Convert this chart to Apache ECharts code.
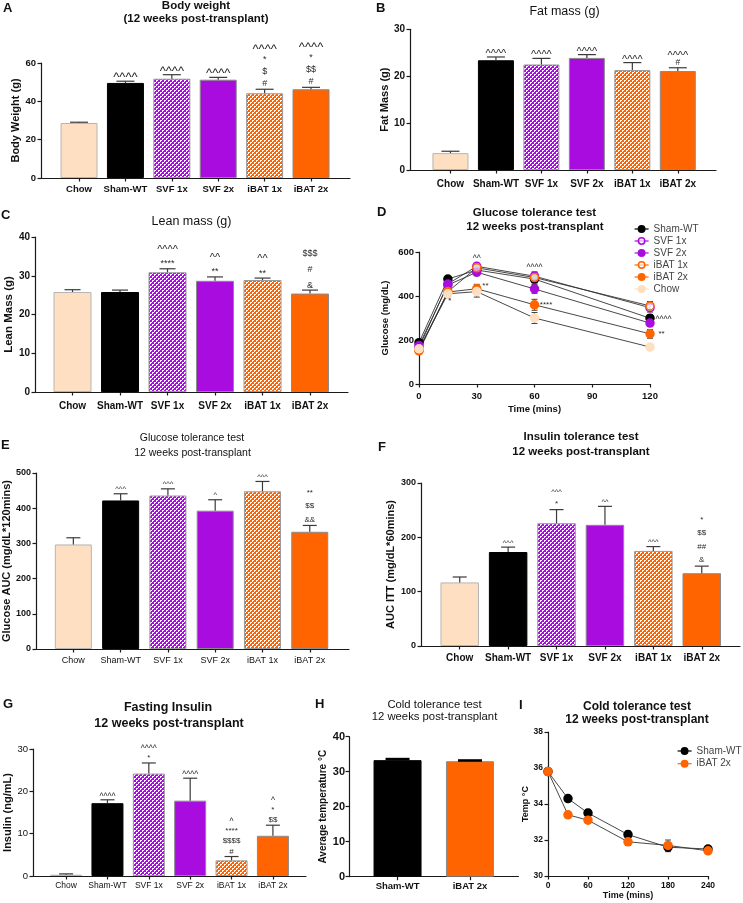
<!DOCTYPE html>
<html>
<head>
<meta charset="utf-8">
<script src="https://cdn.jsdelivr.net/npm/echarts@6.0.0/dist/echarts.min.js"></script>
<style>
html, body { margin:0; padding:0; background:#fff; }
#chart { width:743px; height:903px; }
</style>
</head>
<body>
<div id="chart"></div>
<script>
// ---------------- data ----------------
const groups = ['Chow', 'Sham-WT', 'SVF 1x', 'SVF 2x', 'iBAT 1x', 'iBAT 2x'];

const bodyWeightTicks = [0, 20, 40, 60];
const bodyWeight = [28.7, 49.6, 51.8, 51.3, 44.2, 46.3];
const bodyWeightSem = [0.4, 0.9, 2.1, 1.2, 2.1, 1.0];
const bodyWeightSig = [[], ['^^^^'], ['^^^^'], ['^^^^'], ['^^^^', '*', '$', '#'], ['^^^^', '*', '$$', '#']];

const fatMassTicks = [0, 10, 20, 30];
const fatMass = [3.6, 23.4, 22.5, 23.9, 21.3, 21.1];
const fatMassSem = [0.4, 0.7, 1.3, 0.7, 1.6, 0.7];
const fatMassSig = [[], ['^^^^'], ['^^^^'], ['^^^^'], ['^^^^'], ['^^^^', '#']];

const leanMassTicks = [0, 10, 20, 30, 40];
const leanMass = [25.8, 25.8, 30.9, 28.7, 28.9, 25.4];
const leanMassSem = [0.6, 0.5, 0.9, 1.0, 0.5, 0.9];
const leanMassSig = [[], [], ['^^^^', '****'], ['^^', '**'], ['^^', '**'], ['$$$', '#', '&']];

const gttTimes = [0, 15, 30, 60, 120];
const gttTimeTicks = [0, 30, 60, 90, 120];
const gttGlucoseTicks = [0, 200, 400, 600];
const gttShamWT = [188, 477, 518, 477, 299];
const gttShamWTSem = [10, 12, 14, 18, 16];
const gttSVF1x = [165, 455, 535, 490, 347];
const gttSVF1xSem = [10, 14, 14, 20, 20];
const gttSVF2x = [175, 450, 508, 432, 277];
const gttSVF2xSem = [10, 14, 16, 20, 14];
const gttIBAT1x = [155, 420, 528, 484, 355];
const gttIBAT1xSem = [10, 12, 14, 22, 20];
const gttIBAT2x = [150, 418, 433, 360, 228];
const gttIBAT2xSem = [10, 14, 20, 25, 20];
const gttChow = [160, 410, 420, 300, 168];
const gttChowSem = [10, 18, 25, 25, 10];
const gttSigText = ['^^', '*', '**', '^^^^', '****', '^^^^', '**'];
const gttSigTime = [30, 16, 34.5, 60, 66, 127, 126];
const gttSigGlucose = [575, 380, 447, 535, 359, 300, 227];

const gttAucTicks = [0, 100, 200, 300, 400, 500];
const gttAuc = [297, 422, 436, 393, 448, 333];
const gttAucSem = [19, 19, 19, 31, 28, 18];
const gttAucSig = [[], ['^^^'], ['^^^'], ['^'], ['^^^'], ['**', '$$', '&&']];

const ittAucTicks = [0, 100, 200, 300];
const ittAuc = [117, 173, 226, 223, 175, 134];
const ittAucSem = [10, 9, 25, 34, 8, 13];
const ittAucSig = [[], ['^^^'], ['^^^', '*'], ['^^'], ['^^^'], ['*', '$$', '##', '&']];

const insulinTicks = [0, 10, 20, 30];
const insulin = [0.3, 17.2, 24.2, 17.8, 3.7, 9.5];
const insulinSem = [0.2, 0.8, 2.5, 5.3, 0.9, 2.5];
const insulinSig = [[], ['^^^^'], ['^^^^', '*'], ['^^^^'], ['^', '****', '$$$$', '#'], ['^', '*', '$$']];

const coldGroups = ['Sham-WT', 'iBAT 2x'];
const coldTempTicks = [0, 10, 20, 30, 40];
const coldTemp = [33.3, 33.0];
const coldTempSem = [0.3, 0.2];

const ctTimes = [0, 30, 60, 120, 180, 240];
const ctTimeTicks = [0, 60, 120, 180, 240];
const ctTempTicks = [30, 32, 34, 36, 38];
const ctShamWT = [35.8, 34.3, 33.5, 32.3, 31.6, 31.5];
const ctShamWTSem = [0.1, 0.12, 0.2, 0.2, 0.25, 0.15];
const ctIBAT2x = [35.8, 33.4, 33.1, 31.9, 31.7, 31.4];
const ctIBAT2xSem = [0.1, 0.15, 0.15, 0.2, 0.3, 0.12];

// ---------------- styles ----------------
const FONT = '"Liberation Sans", Arial, Helvetica, sans-serif';
const AX = '#1a1a1a';
const PEACH = '#FEDFC1';
const PURPLE = '#A90CDF';
const ORANGE = '#FF6400';

function checker(c) {
  const cv = document.createElement('canvas');
  cv.width = 4; cv.height = 4;
  const ctx = cv.getContext('2d');
  ctx.fillStyle = c; ctx.fillRect(0, 0, 4, 4);
  ctx.fillStyle = '#ffffff';
  ctx.fillRect(0, 0, 2, 1); ctx.fillRect(0, 1, 1, 1);
  ctx.fillRect(2, 2, 2, 1); ctx.fillRect(2, 3, 1, 1);
  return { image: cv, repeat: 'repeat' };
}
const groupFills = [PEACH, '#000000', checker(PURPLE), PURPLE, checker(ORANGE), ORANGE];
const groupBorders = ['#b5b5b5', '#000000', '#9a9a9a', '#8a8a8a', '#9a9a9a', '#8a8a8a'];

const option = { animation: false, backgroundColor: '#fff', grid: [], xAxis: [], yAxis: [], series: [], graphic: [], legend: [] };

function yAxisCfg(gi, ticks, p) {
  return {
    gridIndex: gi, type: 'value', min: ticks[0], max: ticks[ticks.length - 1], interval: ticks[1] - ticks[0],
    axisLine: { show: true, onZero: false, lineStyle: { color: AX, width: 1.2 } },
    axisTick: { show: true, length: 3.5, lineStyle: { color: AX, width: 1.2 } },
    axisLabel: { margin: p.tickMargin || 5, fontFamily: FONT, fontSize: p.tickSize, fontWeight: p.tickWeight || 'bold', color: '#111' },
    splitLine: { show: false },
    name: p.yName, nameLocation: 'middle', nameGap: p.nameGap, nameRotate: 90,
    nameTextStyle: { fontFamily: FONT, fontSize: p.nameSize, fontWeight: 'bold', color: '#111' }
  };
}

function addBarPanel(p) {
  const gi = option.grid.length;
  option.grid.push({ left: p.left, top: p.top, width: p.width, height: p.height, containLabel: false, outerBoundsMode: 'none' });
  const idx = p.cats.map((_, i) => i);
  option.xAxis.push({
    gridIndex: gi, type: 'value', min: p.xmin, max: p.xmax,
    axisLine: { show: true, onZero: false, lineStyle: { color: AX, width: 1.2 } },
    axisTick: { show: true, customValues: idx, length: 3.5, lineStyle: { color: AX, width: 1.2 } },
    axisLabel: { show: true, customValues: idx, formatter: v => p.cats[Math.round(v)] || '', margin: p.labelMargin,
      fontFamily: FONT, fontSize: p.catSize, fontWeight: p.catWeight, color: '#111' },
    splitLine: { show: false }
  });
  option.yAxis.push(yAxisCfg(gi, p.ticks, p));
  option.series.push({
    type: 'bar', xAxisIndex: gi, yAxisIndex: gi, barWidth: p.barWidth, silent: true, z: 2,
    data: p.values.map((v, i) => ({ value: [i, v], itemStyle: { color: p.fills[i], borderColor: p.borders[i], borderWidth: 1 } }))
  });
  const errColor = p.errColor || '#3a3a3a';
  const errWidth = p.errWidth || 1.2;
  option.series.push({
    type: 'custom', xAxisIndex: gi, yAxisIndex: gi, silent: true, z: 5,
    data: p.values.map((v, i) => [i, v, p.sem[i]]),
    renderItem: (params, api) => {
      const i = params.dataIndex;
      const x = api.value(0), v = api.value(1), e = api.value(2);
      const b = api.coord([x, v]), t = api.coord([x, v + e]);
      const h = p.cap / 2;
      const ch = [
        { type: 'line', shape: { x1: b[0], y1: b[1], x2: t[0], y2: t[1] }, style: { stroke: errColor, lineWidth: 1.2 } },
        { type: 'line', shape: { x1: t[0] - h, y1: t[1], x2: t[0] + h, y2: t[1] }, style: { stroke: errColor, lineWidth: errWidth } }
      ];
      const lines = (p.sig && p.sig[i]) || [];
      const n = lines.length;
      lines.forEach((s, k) => {
        const y = t[1] - p.off0 - (n - 1 - k) * p.lh;
        const caret = s[0] === '^';
        const fs = caret ? p.caretSize : p.symSize;
        ch.push({ type: 'text', x: t[0], y: y + (caret ? fs * 0.18 : 0),
          style: { text: s, fill: '#2a2a2a', font: fs + 'px ' + FONT, align: 'center', verticalAlign: 'middle', textAlign: 'center', textVerticalAlign: 'middle' } });
      });
      return { type: 'group', children: ch };
    }
  });
}

function addLinePanel(p) {
  const gi = option.grid.length;
  option.grid.push({ left: p.left, top: p.top, width: p.width, height: p.height, containLabel: false, outerBoundsMode: 'none' });
  option.xAxis.push({
    gridIndex: gi, type: 'value', min: p.xTicks[0], max: p.xTicks[p.xTicks.length - 1], interval: p.xTicks[1] - p.xTicks[0],
    axisLine: { show: true, onZero: false, lineStyle: { color: AX, width: 1.2 } },
    axisTick: { show: true, length: 3.5, lineStyle: { color: AX, width: 1.2 } },
    axisLabel: { margin: p.xLabelMargin, fontFamily: FONT, fontSize: p.tickSize, fontWeight: 'bold', color: '#111' },
    splitLine: { show: false },
    name: p.xName, nameLocation: 'middle', nameGap: p.xNameGap,
    nameTextStyle: { fontFamily: FONT, fontSize: p.xNameSize, fontWeight: 'bold', color: '#111' }
  });
  option.yAxis.push(yAxisCfg(gi, p.yTicks, p));
  p.series.forEach(s => {
    option.series.push({
      type: 'custom', xAxisIndex: gi, yAxisIndex: gi, silent: true, z: 1,
      data: p.times.map((t, i) => [t, s.values[i], s.sem[i]]),
      renderItem: (params, api) => {
        const x = api.value(0), v = api.value(1), e = api.value(2);
        const lo = api.coord([x, v - e]), hi = api.coord([x, v + e]);
        const h = p.cap / 2;
        const st = { stroke: '#444', lineWidth: 1 };
        return { type: 'group', children: [
          { type: 'line', shape: { x1: lo[0], y1: lo[1], x2: hi[0], y2: hi[1] }, style: st },
          { type: 'line', shape: { x1: hi[0] - h, y1: hi[1], x2: hi[0] + h, y2: hi[1] }, style: st },
          { type: 'line', shape: { x1: lo[0] - h, y1: lo[1], x2: lo[0] + h, y2: lo[1] }, style: st }
        ] };
      }
    });
    option.series.push({
      type: 'line', name: s.name, xAxisIndex: gi, yAxisIndex: gi, z: 3,
      data: p.times.map((t, i) => [t, s.values[i]]),
      symbol: 'circle', symbolSize: p.symbolSize, showSymbol: true,
      lineStyle: { color: '#333', width: 0.9 },
      itemStyle: { color: s.fill, borderColor: s.stroke, borderWidth: 1.5 },
      emphasis: { disabled: true }
    });
  });
  option.legend.push({
    orient: 'vertical', left: p.legendLeft, top: p.legendTop, itemWidth: 14, itemHeight: 8, itemGap: p.legendGap,
    selectedMode: false,
    textStyle: { fontFamily: FONT, fontSize: 10, color: '#444', lineHeight: 12 },
    data: p.series.map(s => ({ name: s.name, itemStyle: { color: s.fill, borderColor: s.stroke, borderWidth: 1.5 }, lineStyle: { color: s.stroke, width: 1.2 } }))
  });
  if (p.sigText) {
    option.series.push({
      type: 'custom', xAxisIndex: gi, yAxisIndex: gi, silent: true, z: 6,
      data: p.sigTime.map((t, i) => [t, p.sigValue[i]]),
      renderItem: (params, api) => {
        const c = api.coord([api.value(0), api.value(1)]);
        const s = p.sigText[params.dataIndex];
        const caret = s[0] === '^';
        const fs = caret ? 8.5 : 8;
        return { type: 'text', x: c[0], y: c[1] + (caret ? fs * 0.18 : 0),
          style: { text: s, fill: '#2a2a2a', font: fs + 'px ' + FONT, align: 'center', verticalAlign: 'middle', textAlign: 'center', textVerticalAlign: 'middle' } };
      }
    });
  }
}

// ---------------- panels ----------------
// A
addBarPanel({ left: 41, top: 63, width: 309, height: 115, xmin: -0.82, xmax: 5.84, cats: groups,
  values: bodyWeight, sem: bodyWeightSem, sig: bodyWeightSig, ticks: bodyWeightTicks,
  fills: groupFills, borders: groupBorders, barWidth: 37, cap: 18, off0: 6, lh: 12, symSize: 9, caretSize: 13,
  catSize: 9.5, catWeight: 'bold', labelMargin: 6, tickSize: 9.5, yName: 'Body Weight (g)', nameGap: 19, nameSize: 11 });
// B
addBarPanel({ left: 410, top: 29.3, width: 306, height: 140.7, xmin: -0.89, xmax: 5.84, cats: groups,
  values: fatMass, sem: fatMassSem, sig: fatMassSig, ticks: fatMassTicks,
  fills: groupFills, borders: groupBorders, barWidth: 36, cap: 18, off0: 5, lh: 9, symSize: 8.5, caretSize: 11,
  catSize: 10, catWeight: 'bold', labelMargin: 9, tickSize: 10, yName: 'Fat Mass (g)', nameGap: 18.5, nameSize: 11 });
// C
addBarPanel({ left: 35, top: 237, width: 313, height: 155, xmin: -0.79, xmax: 5.8, cats: groups,
  values: leanMass, sem: leanMassSem, sig: leanMassSig, ticks: leanMassTicks,
  fills: groupFills, borders: groupBorders, barWidth: 38, cap: 16, off0: 5, lh: 16, symSize: 9, caretSize: 11,
  catSize: 10, catWeight: 'bold', labelMargin: 9, tickSize: 10, yName: 'Lean Mass (g)', nameGap: 18, nameSize: 11.5 });
// D
addLinePanel({ left: 419, top: 252, width: 231, height: 132, times: gttTimes, xTicks: gttTimeTicks, yTicks: gttGlucoseTicks,
  tickSize: 9.5, xLabelMargin: 7, xName: 'Time (mins)', xNameGap: 20, xNameSize: 9.5,
  yName: 'Glucose (mg/dL)', nameGap: 29, nameSize: 9.5, cap: 6, symbolSize: 8,
  legendLeft: 629, legendTop: 218, legendGap: 0,
  sigText: gttSigText, sigTime: gttSigTime, sigValue: gttSigGlucose,
  series: [
    { name: 'Sham-WT', values: gttShamWT, sem: gttShamWTSem, fill: '#000', stroke: '#000' },
    { name: 'SVF 1x', values: gttSVF1x, sem: gttSVF1xSem, fill: 'rgba(255,255,255,0.6)', stroke: PURPLE },
    { name: 'SVF 2x', values: gttSVF2x, sem: gttSVF2xSem, fill: PURPLE, stroke: PURPLE },
    { name: 'iBAT 1x', values: gttIBAT1x, sem: gttIBAT1xSem, fill: 'rgba(255,255,255,0.6)', stroke: ORANGE },
    { name: 'iBAT 2x', values: gttIBAT2x, sem: gttIBAT2xSem, fill: ORANGE, stroke: ORANGE },
    { name: 'Chow', values: gttChow, sem: gttChowSem, fill: PEACH, stroke: PEACH }
  ] });
// E
addBarPanel({ left: 36, top: 473, width: 313, height: 176, xmin: -0.79, xmax: 5.83, cats: groups,
  values: gttAuc, sem: gttAucSem, sig: gttAucSig, ticks: gttAucTicks,
  fills: groupFills, borders: groupBorders, barWidth: 37, cap: 14, off0: 6, lh: 13.5, symSize: 8, caretSize: 7.5,
  catSize: 9, catWeight: 'normal', labelMargin: 7, tickSize: 9, yName: 'Glucose AUC (mg/dL*120mins)', nameGap: 20, nameSize: 11 });
// F
addBarPanel({ left: 421, top: 483, width: 319, height: 163, xmin: -0.8, xmax: 5.79, cats: groups,
  values: ittAuc, sem: ittAucSem, sig: ittAucSig, ticks: ittAucTicks,
  fills: groupFills, borders: groupBorders, barWidth: 38.5, cap: 14, off0: 6, lh: 13.5, symSize: 8, caretSize: 7.5,
  catSize: 10, catWeight: 'bold', labelMargin: 7.5, tickSize: 9, yName: 'AUC ITT (mg/dL*60mins)', nameGap: 25, nameSize: 11 });
// G
addBarPanel({ left: 33, top: 749, width: 273, height: 127, xmin: -0.8, xmax: 5.8, cats: groups,
  values: insulin, sem: insulinSem, sig: insulinSig, ticks: insulinTicks,
  fills: groupFills, borders: groupBorders, barWidth: 32, cap: 14, off0: 5, lh: 10.5, symSize: 8, caretSize: 8.5,
  catSize: 8.5, catWeight: 'normal', labelMargin: 5, tickSize: 9.5, tickWeight: 'normal', yName: 'Insulin (ng/mL)', nameGap: 17, nameSize: 11 });
// H
addBarPanel({ left: 349, top: 736.7, width: 169.5, height: 140, xmin: -0.67, xmax: 1.67, cats: coldGroups,
  values: coldTemp, sem: coldTempSem, sig: [[], []], ticks: coldTempTicks,
  fills: ['#000000', ORANGE], borders: ['#000000', '#8a8a8a'], barWidth: 48, cap: 24, errColor: '#000', errWidth: 2.6,
  off0: 5, lh: 9, symSize: 8, caretSize: 8,
  catSize: 9.5, catWeight: 'bold', labelMargin: 5, tickSize: 11, tickMargin: 4, yName: 'Average temperature °C', nameGap: 21, nameSize: 10 });
// I
addLinePanel({ left: 548, top: 732, width: 160, height: 144, times: ctTimes, xTicks: ctTimeTicks, yTicks: ctTempTicks,
  tickSize: 8.5, xLabelMargin: 5, xName: 'Time (mins)', xNameGap: 15, xNameSize: 9,
  yName: 'Temp °C', nameGap: 16, nameSize: 9, cap: 6, symbolSize: 8,
  legendLeft: 672, legendTop: 740, legendGap: 0.7,
  series: [
    { name: 'Sham-WT', values: ctShamWT, sem: ctShamWTSem, fill: '#000', stroke: '#000' },
    { name: 'iBAT 2x', values: ctIBAT2x, sem: ctIBAT2xSem, fill: ORANGE, stroke: ORANGE }
  ] });

// ---------------- panel letters & titles ----------------
function txt(text, x, y, size, weight, align) {
  option.graphic.push({ type: 'text', x: x, y: y, silent: true,
    style: { text: text, fill: '#111', font: (weight || 'normal') + ' ' + size + 'px ' + FONT,
      align: align || 'center', verticalAlign: 'middle', textAlign: align || 'center', textVerticalAlign: 'middle' } });
}
[['A', 3, 8], ['B', 376, 8], ['C', 1, 215], ['D', 377, 212], ['E', 1, 445], ['F', 378, 447], ['G', 3, 704], ['H', 315, 704], ['I', 519, 705]]
  .forEach(l => txt(l[0], l[1], l[2], 13, 'bold', 'left'));

txt('Body weight', 196, 6, 11.5, 'bold');
txt('(12 weeks post-transplant)', 196, 19, 11.5, 'bold');
txt('Fat mass (g)', 564.5, 12, 12.5, 'normal');
txt('Lean mass (g)', 191.5, 222, 12.5, 'normal');
txt('Glucose tolerance test', 534.5, 213, 11.5, 'bold');
txt('12 weeks post-transplant', 535, 227, 11.5, 'bold');
txt('Glucose tolerance test', 192, 438, 10.5, 'normal');
txt('12 weeks post-transplant', 192.5, 453, 10.5, 'normal');
txt('Insulin tolerance test', 581, 437, 11.5, 'bold');
txt('12 weeks post-transplant', 581, 452, 11.5, 'bold');
txt('Fasting Insulin', 168, 708, 12.5, 'bold');
txt('12 weeks post-transplant', 169, 724, 12.5, 'bold');
txt('Cold tolerance test', 434.5, 705, 11.3, 'normal');
txt('12 weeks post-transplant', 434.5, 717.3, 11.3, 'normal');
txt('Cold tolerance test', 637, 707, 12, 'bold');
txt('12 weeks post-transplant', 637, 719.3, 12, 'bold');

const chart = echarts.init(document.getElementById('chart'), null, { renderer: 'canvas' });
chart.setOption(option);
</script>
</body>
</html>
